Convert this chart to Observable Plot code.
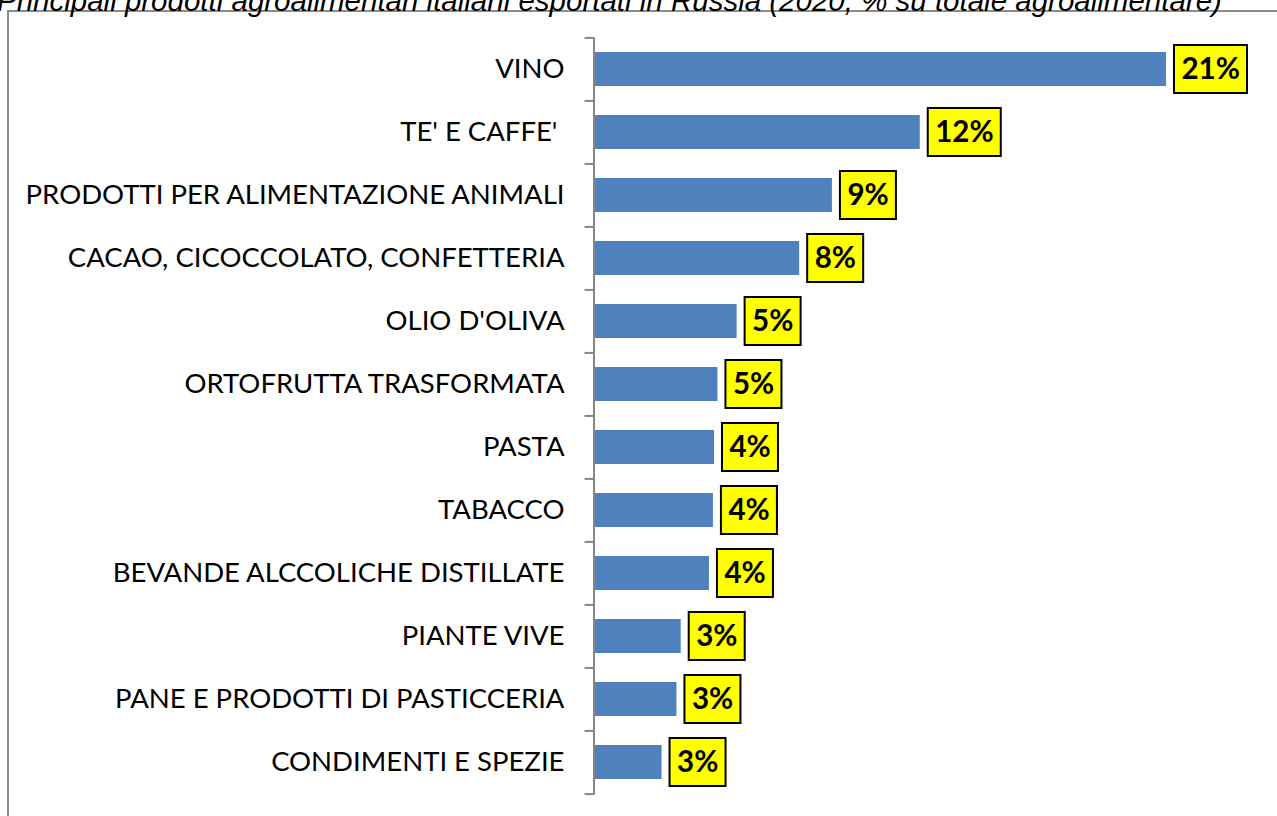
<!DOCTYPE html>
<html>
<head>
<meta charset="utf-8">
<script src="https://cdn.jsdelivr.net/npm/d3@7"></script>
<script src="https://cdn.jsdelivr.net/npm/@observablehq/plot@0.6"></script>
<style>
  html, body { margin: 0; padding: 0; background: #fff; }
  #wrap { position: relative; width: 1277px; height: 816px; overflow: hidden; background: #fff; }
  #frame { position: absolute; left: 7px; top: 10px; width: 1400px; height: 1000px; border: 2px solid #8c8c8c; box-sizing: border-box; }
  #title { position: absolute; left: -3px; top: -14px; font-family: "Liberation Sans", Arial, sans-serif; font-style: italic; font-size: 29.5px; line-height: 29.5px; white-space: nowrap; color: #000; }
  #chart { position: absolute; left: 0; top: 0; }
  #chart svg text { white-space: pre; }
</style>
</head>
<body>
<div id="wrap">
  <div id="frame"></div>
  <div id="title">Principali prodotti agroalimentari italiani esportati in Russia (2020, % su totale agroalimentare)</div>
  <div id="chart"></div>
</div>
<script>
const categories = [
  "VINO",
  "TE' E CAFFE' ",
  "PRODOTTI PER ALIMENTAZIONE ANIMALI",
  "CACAO, CICOCCOLATO, CONFETTERIA",
  "OLIO D'OLIVA",
  "ORTOFRUTTA TRASFORMATA",
  "PASTA",
  "TABACCO",
  "BEVANDE ALCCOLICHE DISTILLATE",
  "PIANTE VIVE",
  "PANE E PRODOTTI DI PASTICCERIA",
  "CONDIMENTI E SPEZIE"
];
const values = [21.45, 12.2, 8.9, 7.67, 5.32, 4.6, 4.47, 4.43, 4.28, 3.22, 3.06, 2.5];
const valueLabels = ["21%", "12%", "9%", "8%", "5%", "5%", "4%", "4%", "4%", "3%", "3%", "3%"];

const rows = categories.map((cat, i) => ({cat, value: values[i], label: valueLabels[i]}));

const W = 1277, H = 816;
const mTop = 37, mBottom = 21, mLeft = 595, mRight = 111;
const step = (H - mTop - mBottom) / categories.length;
const axisColor = "#868686";
const boxStyle = {fill: "#ffff00", stroke: "#000", strokeWidth: 2, insetTop: -7, insetBottom: -7};

const chart = Plot.plot({
  width: W,
  height: H,
  marginTop: mTop,
  marginBottom: mBottom,
  marginLeft: mLeft,
  marginRight: mRight,
  style: {fontFamily: "Lato, 'Open Sans', sans-serif", background: "transparent", overflow: "visible"},
  x: {domain: [0, d3.max(values)], axis: null},
  y: {domain: categories, paddingInner: 0.46, paddingOuter: 0.23, axis: null},
  marks: [
    Plot.barX(rows, {x: "value", y: "cat", fill: "#4f81bd"}),
    Plot.barX(rows.filter(d => d.label.length === 3), {x1: "value", x2: "value", y: "cat", insetLeft: 8, insetRight: -(8 + 73), ...boxStyle}),
    Plot.barX(rows.filter(d => d.label.length === 2), {x1: "value", x2: "value", y: "cat", insetLeft: 8, insetRight: -(8 + 56), ...boxStyle}),
    Plot.text(rows, {x: "value", y: "cat", text: "label", textAnchor: "start", dx: 15, fontSize: 29.5, fontWeight: "bold", fill: "#000"}),
    Plot.text(rows, {y: "cat", text: "cat", frameAnchor: "left", textAnchor: "end", dx: -31, fontSize: 27.5, fill: "#000"}),
    Plot.ruleX([0], {stroke: axisColor, strokeWidth: 2, dx: -1.5}),
    Plot.ruleY(categories, {y: d => d, x1: d => 0, x2: d => 0, insetLeft: -9, dx: -1.5, dy: -step / 2, stroke: axisColor, strokeWidth: 2}),
    Plot.ruleY(categories.slice(-1), {y: d => d, x1: d => 0, x2: d => 0, insetLeft: -9, dx: -1.5, dy: step / 2, stroke: axisColor, strokeWidth: 2})
  ]
});
document.getElementById("chart").appendChild(chart);
</script>
</body>
</html>
